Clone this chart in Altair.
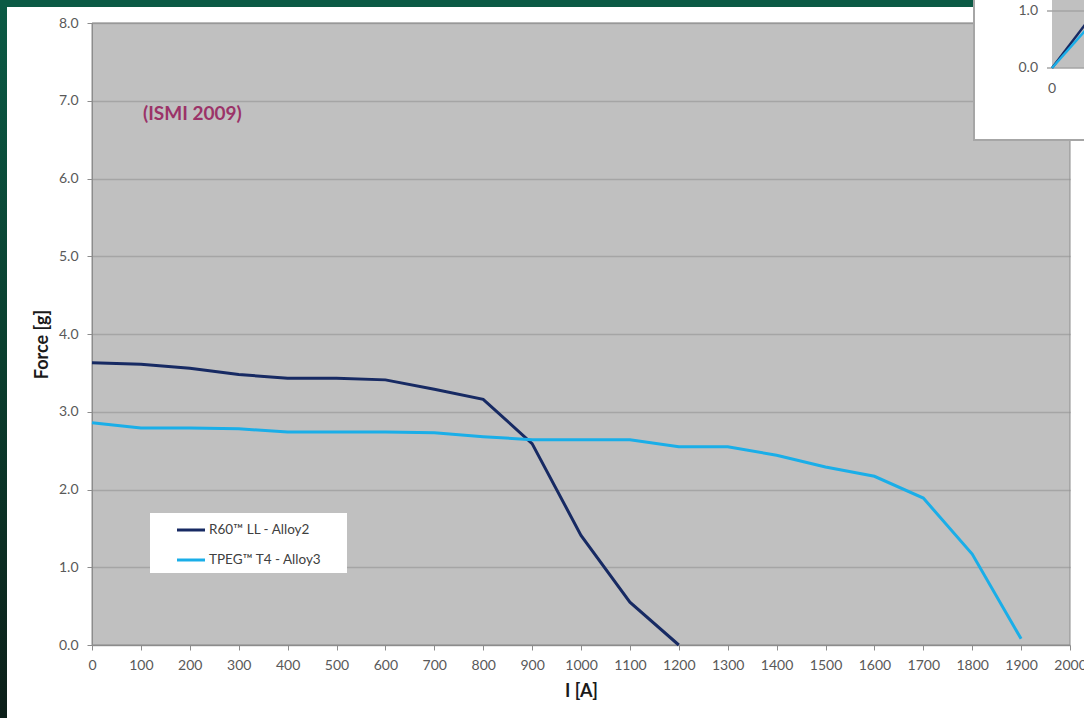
import altair as alt
import pandas as pd

# Magnet current (A) and measured force (g) per alloy
current_a = [0, 100, 200, 300, 400, 500, 600, 700, 800, 900, 1000, 1100, 1200,
             1300, 1400, 1500, 1600, 1700, 1800, 1900]
r60_force = [3.63, 3.61, 3.56, 3.48, 3.43, 3.43, 3.41, 3.29, 3.16, 2.59, 1.41, 0.55, 0.0]
tpeg_force = [2.86, 2.79, 2.79, 2.78, 2.74, 2.74, 2.74, 2.73, 2.68, 2.64, 2.64, 2.64,
              2.55, 2.55, 2.44, 2.29, 2.17, 1.89, 1.17, 0.08]
series_names = ["R60\u2122 LL - Alloy2", "TPEG\u2122 T4 - Alloy3"]
series_colors = ["#172a63", "#1aaee8"]

x_ticks = list(range(0, 2001, 100))
y_ticks = [0, 1, 2, 3, 4, 5, 6, 7, 8]

# Small companion chart in the corner (only its lower-left part shows)
inset_x = [0, 100]
inset_r60 = [0.0, 1.84]
inset_tpeg = [0.0, 1.58]
inset_y_ticks = [0, 1]

FONT = "Lato"
W, H = 978, 622

rows = []
for name, vals in zip(series_names, [r60_force, tpeg_force]):
    for i, v in zip(current_a, vals):
        rows.append({"I": i, "F": v, "series": name})
df = pd.DataFrame(rows)

one = pd.DataFrame({"k": [0]})

lines = alt.Chart(df).mark_line(strokeWidth=3).encode(
    x=alt.X("I:Q", scale=alt.Scale(domain=[0, 2000], nice=False),
            axis=alt.Axis(values=x_ticks, title="I [A]", grid=False, format="d",
                          labelFontSize=14, labelColor="#595959", labelPadding=8,
                          tickSize=5, tickColor="#8c8c8c", domainColor="#8c8c8c",
                          titleFontSize=18, titleFontWeight="bold", titleColor="#1a1a1a",
                          titlePadding=10, labelFont=FONT, titleFont=FONT,
                          labelFlush=False, labelOverlap=False)),
    y=alt.Y("F:Q", scale=alt.Scale(domain=[0, 8], nice=False),
            axis=alt.Axis(values=y_ticks, format=".1f", title="Force [g]", grid=True,
                          gridColor="#a5a5a5", gridWidth=1.3,
                          labelFontSize=14, labelColor="#595959", labelPadding=9,
                          tickSize=5, tickColor="#8c8c8c", domainColor="#8c8c8c",
                          titleFontSize=18, titleFontWeight="bold", titleColor="#1a1a1a",
                          titlePadding=7, titleY=321, labelFont=FONT, titleFont=FONT)),
    color=alt.Color("series:N", scale=alt.Scale(domain=series_names, range=series_colors),
                    legend=None),
    detail="series:N",
)

border = alt.Chart(one).mark_rect(fillOpacity=0, stroke="#8c8c8c", strokeWidth=1).encode(
    x=alt.value(0), x2=alt.value(W), y=alt.value(0), y2=alt.value(H))

note = alt.Chart(one).mark_text(align="left", baseline="middle", fontSize=19,
                                fontWeight="bold", color="#9b3368", font=FONT).encode(
    x=alt.value(51), y=alt.value(91), text=alt.value("(ISMI 2009)"))

legend_box = alt.Chart(one).mark_rect(fill="white").encode(
    x=alt.value(58), x2=alt.value(255), y=alt.value(490), y2=alt.value(550))
legend_layers = [legend_box]
for i, (name, col) in enumerate(zip(series_names, series_colors)):
    ly = 507 + 30 * i
    legend_layers.append(alt.Chart(one).mark_rule(color=col, strokeWidth=3).encode(
        x=alt.value(85), x2=alt.value(113), y=alt.value(ly)))
    legend_layers.append(alt.Chart(one).mark_text(
        align="left", baseline="middle", fontSize=13.5, color="#404040", font=FONT).encode(
        x=alt.value(117), y=alt.value(ly), text=alt.value(name)))

green = alt.LinearGradient(
    gradient="linear", x1=0, x2=0, y1=0, y2=1,
    stops=[alt.GradientStop(color="#0b5a45", offset=0),
           alt.GradientStop(color="#0a3e2e", offset=0.5),
           alt.GradientStop(color="#0c1f19", offset=1)])
frame_left = alt.Chart(one).mark_rect(color=green).encode(
    x=alt.value(-92), x2=alt.value(-85), y=alt.value(-23), y2=alt.value(H + 73))
frame_top = alt.Chart(one).mark_rect(color="#0b5a45").encode(
    x=alt.value(-92), x2=alt.value(885), y=alt.value(-23), y2=alt.value(-16))

main = alt.layer(frame_left, frame_top, border, lines, note, *legend_layers)

# Corner companion chart
inset_rows = []
for name, vals in zip(series_names, [inset_r60, inset_tpeg]):
    for i, v in zip(inset_x, vals):
        inset_rows.append({"I": i, "F": v, "series": name})
inset_df = pd.DataFrame(inset_rows)
ix = alt.Scale(domain=[0, 100], range=[960, 1040])
iy = alt.Scale(domain=[0, 1], range=[45, -12])

inset_shadow = alt.Chart(one).mark_rect(fill="#a6a6a6").encode(
    x=alt.value(881), x2=alt.value(1000), y=alt.value(-23), y2=alt.value(118))
inset_box = alt.Chart(one).mark_rect(fill="white").encode(
    x=alt.value(883), x2=alt.value(1000), y=alt.value(-23), y2=alt.value(116))
inset_plot = alt.Chart(one).mark_rect(fill="#c0c0c0").encode(
    x=alt.value(960), x2=alt.value(1000), y=alt.value(-23), y2=alt.value(45))
tick_df = pd.DataFrame({"v": inset_y_ticks, "lab": ["0.0", "1.0"]})
inset_grid = alt.Chart(tick_df).mark_rule(color="#a5a5a5", strokeWidth=1.3).encode(
    x=alt.value(955), x2=alt.value(1000), y=alt.Y("v:Q", scale=iy, axis=None))
inset_labels = alt.Chart(tick_df).mark_text(
    align="right", baseline="middle", fontSize=14, color="#595959", font=FONT).encode(
    x=alt.value(946), y=alt.Y("v:Q", scale=iy, axis=None), text="lab:N")
inset_xlabel = alt.Chart(pd.DataFrame({"v": [0], "lab": ["0"]})).mark_text(
    align="center", baseline="middle", fontSize=14, color="#595959", font=FONT).encode(
    x=alt.X("v:Q", scale=ix, axis=None), y=alt.value(66), text="lab:N")
inset_lines = alt.Chart(inset_df).mark_line(strokeWidth=2.5).encode(
    x=alt.X("I:Q", scale=ix, axis=None),
    y=alt.Y("F:Q", scale=iy, axis=None),
    color=alt.Color("series:N", scale=alt.Scale(domain=series_names, range=series_colors),
                    legend=None),
    detail="series:N",
)
inset = alt.layer(inset_shadow, inset_box, inset_plot, inset_grid, inset_labels,
                  inset_xlabel, inset_lines)

chart = alt.layer(main, inset).resolve_scale(
    x="independent", y="independent", color="independent"
).properties(
    width=W, height=H,
    padding={"left": 92, "top": 23, "right": 14, "bottom": 73},
    autosize=alt.AutoSizeParams(type="none"),
    background="white",
).configure_view(fill="#c0c0c0", stroke=None)

chart.save("out.html", embed_options={"renderer": "svg", "actions": False})
